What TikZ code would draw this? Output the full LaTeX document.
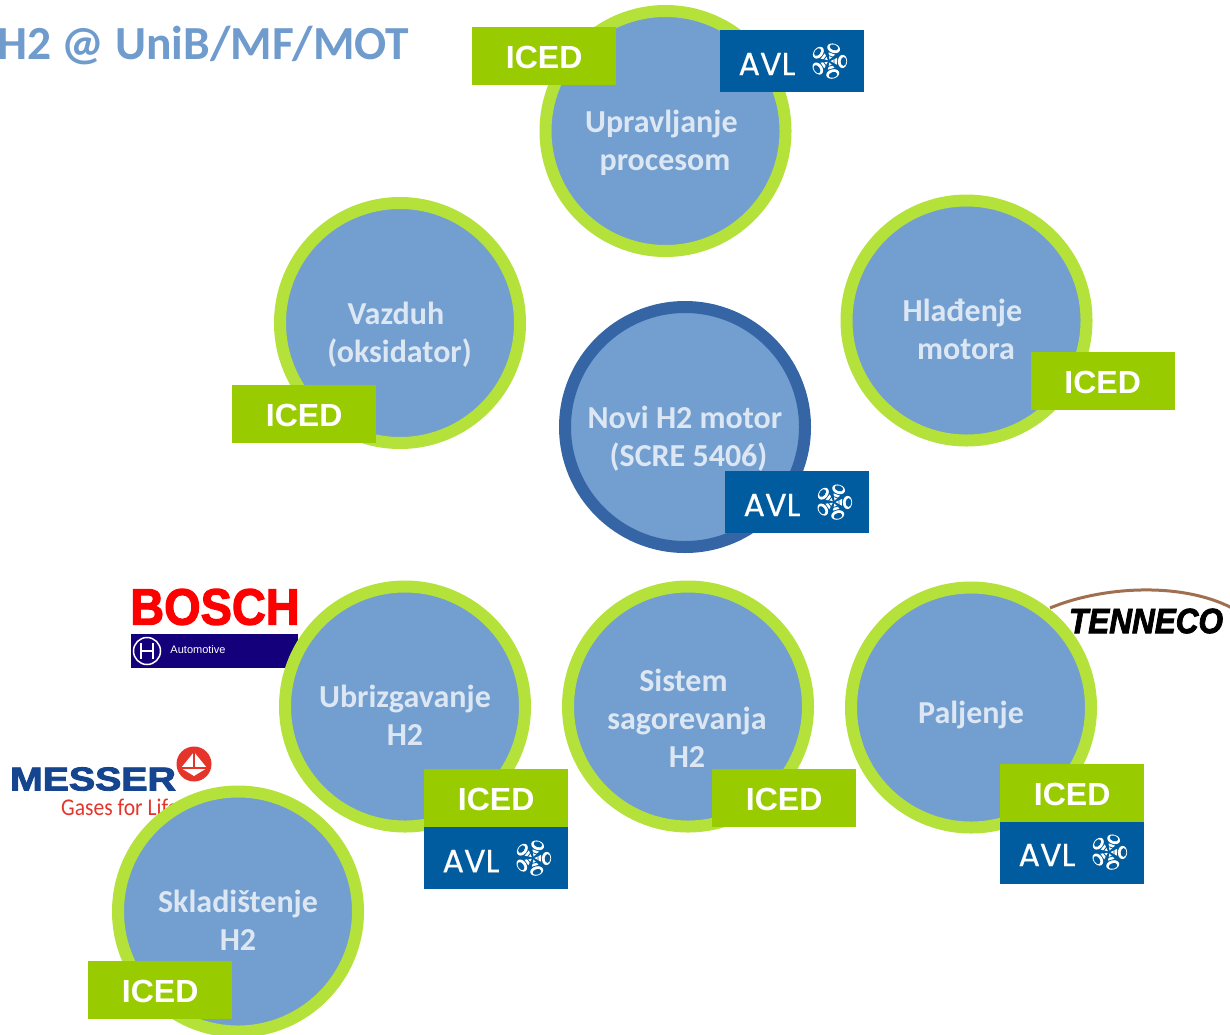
\documentclass[tikz,border=0pt]{standalone}
\usepackage{fontspec}
\setmainfont{Carlito}
\newfontfamily\arialfont{Liberation Sans}
\newfontfamily\heavyfont[BoldFeatures={FakeBold=2.5},BoldItalicFeatures={FakeBold=2.5}]{Liberation Sans}
\newfontfamily\avlfont[FakeBold=0.5]{Poppins}

\definecolor{blobfill}{HTML}{729FCF}
\definecolor{blobgreen}{HTML}{B5E13B}
\definecolor{blobdark}{HTML}{3565A5}
\definecolor{blobtext}{HTML}{DDE7F3}
\definecolor{titleblue}{HTML}{6F9BCD}
\definecolor{icedgreen}{HTML}{99CC00}
\definecolor{avlblue}{HTML}{005C9E}
\definecolor{boschred}{HTML}{FF0000}
\definecolor{boschbar}{HTML}{14007A}
\definecolor{messerblue}{HTML}{15458F}
\definecolor{messerred}{HTML}{E5352B}
\definecolor{tennecoarc}{HTML}{A06F50}

\newcommand{\avlpetal}[1]{%
	\begin{scope}[rotate=#1]
		\fill[white] (13.5,0) ellipse (4.6 and 6.6);
		\fill[avlblue] (14.5,0) ellipse (2.8 and 4.4);
		\fill[white] (1.5,0) -- (8,3.4) -- (8,-3.4) -- cycle;
		\draw[avlblue,line width=0.8] (5,-4) -- (5,4);
	\end{scope}}
\newcommand{\trail}{~\mbox{}}

\tikzset{
	blob/.style={circle,draw=blobgreen,fill=blobfill,line width=12,minimum size=240,inner sep=0,outer sep=0},
	blobmain/.style={blob,draw=blobdark},
	blobtxt/.style={text=blobtext,align=center,inner sep=0,font=\fontsize{32}{38}\selectfont\bfseries},
	iced/.style={anchor=north west,fill=icedgreen,text=white,minimum width=144,minimum height=58,inner sep=0,text height=24pt,font=\fontsize{32}{38}\arialfont\bfseries},
	avl/.style={anchor=north west,fill=avlblue,minimum width=144,minimum height=62,inner sep=0},
	avltxt/.style={text=white,inner sep=0,font=\fontsize{32}{36}\avlfont},
	avlstar/.pic={
		\avlpetal{70}\avlpetal{142}\avlpetal{214}\avlpetal{286}\avlpetal{358}
	}
}

\begin{document}
\begin{tikzpicture}[x=1pt,y=-1pt]
	\useasboundingbox (0,0) rectangle (1230,1034);
	\clip (0,0) rectangle (1230,1034);

	% title
	\node[anchor=west,inner sep=0,text=titleblue,font=\fontsize{47.5}{50}\selectfont\bfseries] (title) at (-3,46) {H2 @ UniB/MF/MOT};

	% logos, the circles lie over them
	\node[inner sep=0,text=boschred,font=\fontsize{51}{56}\heavyfont\bfseries] (bosch) at (215,607) {\scalebox{0.92}[1]{BOSCH}};
	\fill[boschbar] (131,634) rectangle (298,668);
	\draw[white,line width=1.5] (147,651) circle (13.5);
	\draw[white,line width=2] (141,643) -- (141,659);
	\draw[white,line width=2] (153,643) -- (153,659);
	\draw[white,line width=2] (141,651) -- (153,651);
	\node[inner sep=0,text=white,font=\fontsize{11}{12}\arialfont] (automotive) at (198,650) {Automotive};

	\node[inner sep=0,text=messerblue,font=\fontsize{33}{36}\heavyfont\bfseries] (messer) at (93,779) {\scalebox{1.19}[1]{MESSER}};
	\fill[messerred] (194,764) circle (17.5);
	\fill[white] (194,752) -- (207,768) -- (194,776) -- (181,768) -- cycle;
	\draw[messerred,line width=2.2] (181,768) -- (207,768);
	\draw[messerred,line width=1.8] (194,752) -- (194,768);
	\node[anchor=west,inner sep=0,text=messerred,font=\fontsize{24}{26}\selectfont] (gases) at (61,807) {\scalebox{0.9}[1]{Gases for Life}};

	\draw[tennecoarc,line width=3] (1050,608) .. controls (1100,587) and (1180,581) .. (1232,608);
	\node[inner sep=0,text=black,font=\fontsize{35}{38}\heavyfont\bfseries\itshape] (tenneco) at (1146,621) {\scalebox{0.9}[1]{TENNECO}};

	% circles
	\node[blob] (upravljanje) at (665.5,131) {};
	\node[blob] (vazduh) at (400,323) {};
	\node[blob] (hladjenje) at (966.5,320.5) {};
	\node[blobmain] (motor) at (685,427) {};
	\node[blob] (ubrizgavanje) at (405,706.5) {};
	\node[blob] (sistem) at (688,706.5) {};
	\node[blob] (paljenje) at (971,707.5) {};
	\node[blob] (skladistenje) at (238,911.5) {};

	% circle texts
	\node[blobtxt] (upravljanjetxt) at (665,143) {Upravljanje\trail\\procesom};
	\node[blobtxt] (vazduhtxt) at (399.5,335) {Vazduh\trail\\(oksidator)};
	\node[blobtxt] (hladjenjetxt) at (966,329) {Hlađenje\trail\\motora};
	\node[blobtxt] (motortxt) at (688.5,438.5) {Novi H2 motor\trail\\(SCRE 5406)};
	\node[blobtxt] (ubrizgavanjetxt) at (405,715.5) {Ubrizgavanje\\H2};
	\node[blobtxt] (sistemtxt) at (687,718.5) {Sistem\trail\\sagorevanja\\H2};
	\node[blobtxt] (paljenjetxt) at (971,715) {Paljenje};
	\node[blobtxt] (skladistenjetxt) at (238,920.5) {Skladištenje\\H2};

	% ICED badges
	\node[iced] (iced1) at (472,27) {ICED};
	\node[iced] (iced2) at (1030.5,352) {ICED};
	\node[iced] (iced3) at (232,385) {ICED};
	\node[iced] (iced4) at (424,769) {ICED};
	\node[iced] (iced5) at (712,769) {ICED};
	\node[iced] (iced6) at (1000,764) {ICED};
	\node[iced] (iced7) at (88,961) {ICED};

	% AVL badges
	\node[avl] (avl1) at (720,30) {};
	\node[avl] (avl2) at (725,471) {};
	\node[avl] (avl3) at (424,827) {};
	\node[avl] (avl4) at (1000,822) {};
	\node[avltxt] (avltxt1) at (767,64) {AVL};
	\node[avltxt] (avltxt2) at (772,505) {AVL};
	\node[avltxt] (avltxt3) at (471,861) {AVL};
	\node[avltxt] (avltxt4) at (1047,855) {AVL};
	\pic at (829,61) {avlstar};
	\pic at (834,502) {avlstar};
	\pic at (533,858) {avlstar};
	\pic at (1109,852) {avlstar};
\end{tikzpicture}
\end{document}
